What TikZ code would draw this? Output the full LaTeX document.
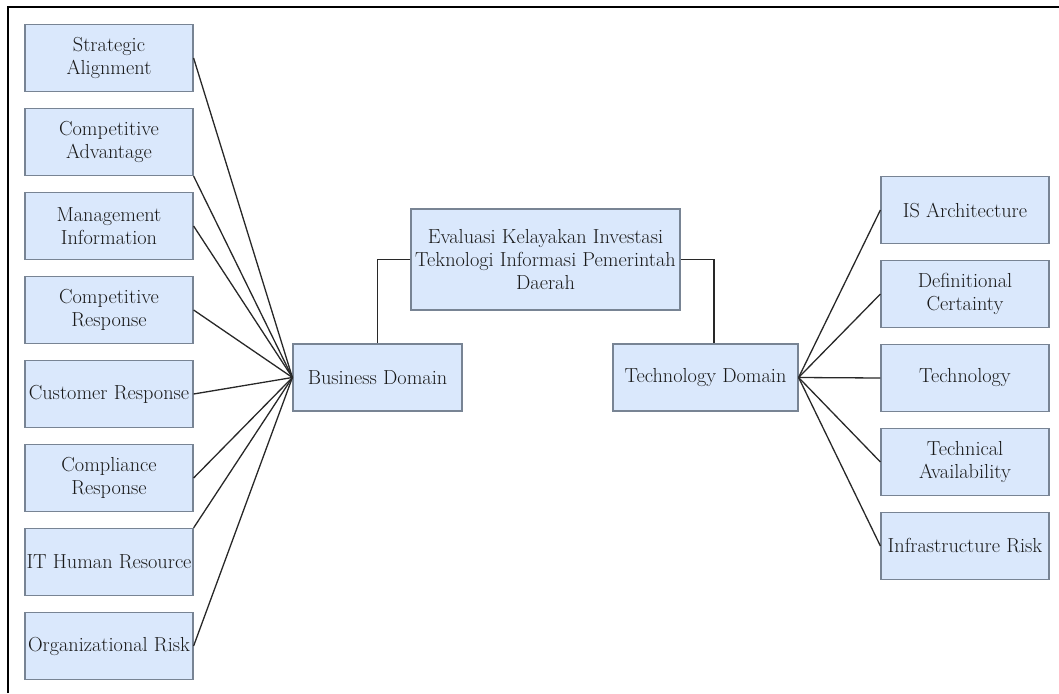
\documentclass[tikz,border=0pt]{standalone}
\usepackage{tikz}

\definecolor{boxfill}{RGB}{218,232,252}
\definecolor{boxline}{RGB}{120,132,148}
\definecolor{wire}{RGB}{40,40,40}

\begin{document}
\begin{tikzpicture}[x=1pt,y=-1pt,
  box/.style={shape=rectangle,draw=boxline,fill=boxfill,line width=1.2pt,
    minimum width=168pt,minimum height=67pt,inner sep=1pt,align=center,
    text=black!90,font=\fontsize{20.3}{23}\selectfont},
  link/.style={draw=wire,line width=1.3pt}]
\useasboundingbox (0,0) rectangle (1059,693);
\draw[line width=1.6pt] (8,693) -- (8,7) -- (1059,7);
% top of the tree
\node[box,minimum width=269pt,minimum height=101pt] (root) at (545.5,259.5) {Evaluasi Kelayakan Investasi\\Teknologi Informasi Pemerintah\\Daerah};
\node[box,minimum width=169pt] (bus) at (377.5,377.5) {Business Domain};
\node[box,minimum width=185pt] (tech) at (705.5,377.5) {Technology Domain};
\draw[link] (root.west) -| (bus.north);
\draw[link] (root.east) -| ([xshift=8.5pt]tech.north);
% business factors
\node[box] (sa) at (109,58) {Strategic\\Alignment};
\node[box] (ca) at (109,142) {Competitive\\Advantage};
\node[box] (mi) at (109,226) {Management\\Information};
\node[box] (cr) at (109,310) {Competitive\\Response};
\node[box] (cu) at (109,394) {Customer Response};
\node[box] (co) at (109,478) {Compliance\\Response};
\node[box] (ih) at (109,562) {IT Human Resource};
\node[box] (or) at (109,646) {Organizational Risk};
\draw[link] (sa.east) -- (bus.west);
\draw[link] (ca.south east) -- (bus.west);
\draw[link] (mi.east) -- (bus.west);
\draw[link] (cr.east) -- (bus.west);
\draw[link] (cu.east) -- (bus.west);
\draw[link] (co.east) -- (bus.west);
\draw[link] (ih.north east) -- (bus.west);
\draw[link] (or.east) -- (bus.west);
% technology factors
\node[box] (isa) at (965,210) {IS Architecture};
\node[box] (dc) at (965,294) {Definitional\\Certainty};
\node[box] (te) at (965,378) {Technology};
\node[box] (ta) at (965,462) {Technical\\Availability};
\node[box] (ir) at (965,546) {Infrastructure Risk};
\draw[link] (tech.east) -- (isa.west);
\draw[link] (tech.east) -- (dc.west);
\draw[link] (tech.east) -- (te.west);
\draw[link] (tech.east) -- (ta.west);
\draw[link] (tech.east) -- (ir.west);
\end{tikzpicture}
\end{document}
